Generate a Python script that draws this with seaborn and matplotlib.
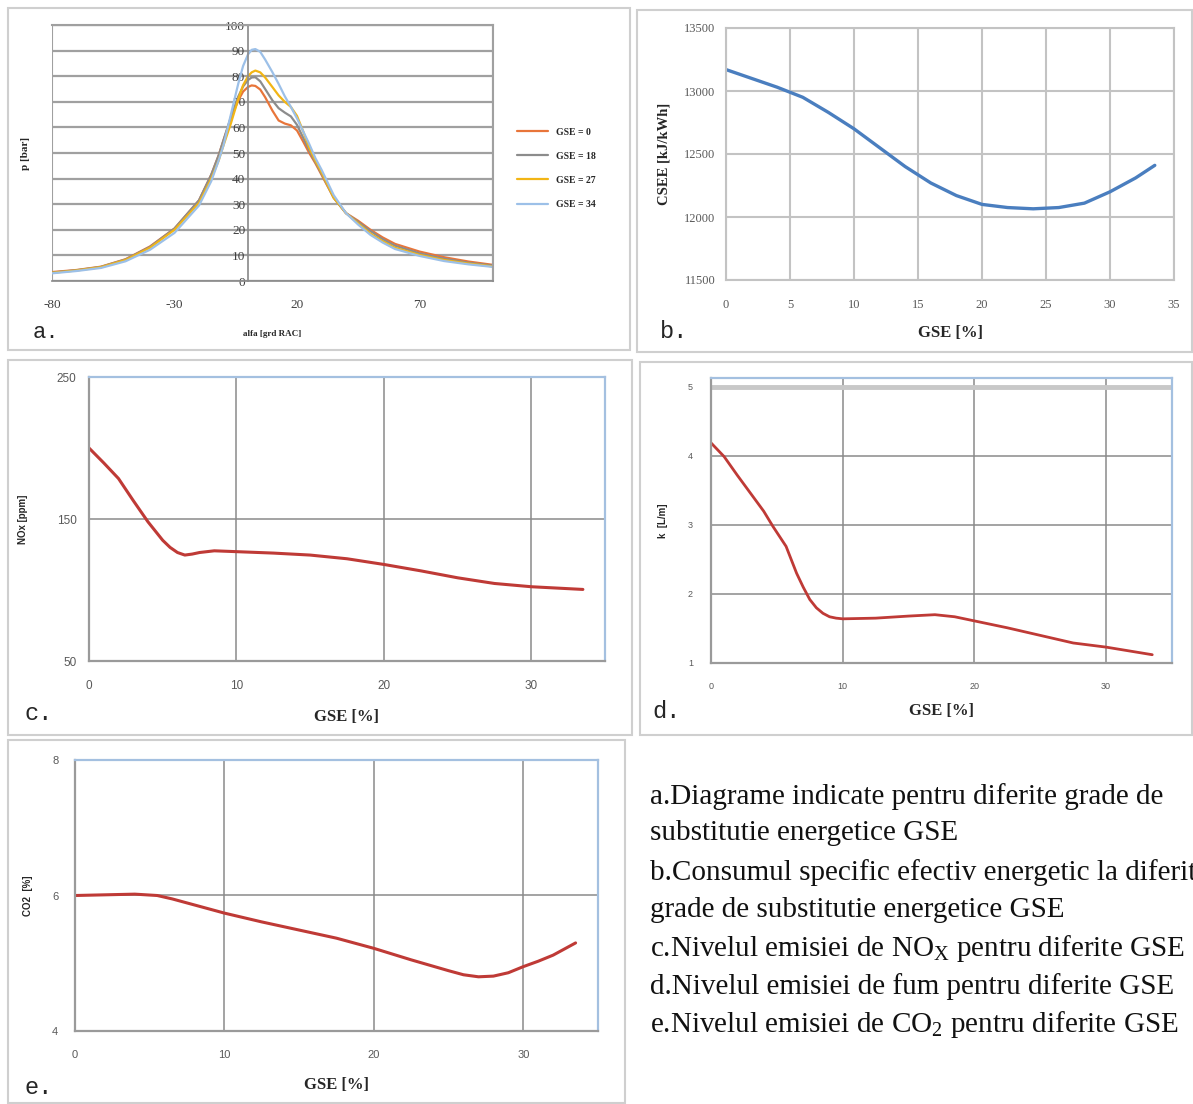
import numpy as np
import pandas as pd
import matplotlib
matplotlib.use("Agg")
import matplotlib.pyplot as plt
import seaborn as sns
from matplotlib.patches import Rectangle

# ---- data ----
# a. indicated pressure diagrams
alfa = [-80, -70, -60, -50, -40, -30, -20, -15, -12, -10, -7, -4, -2, 0, 1.5, 3, 5, 7, 10, 12.5, 15,
        17.5, 20, 22.5, 25, 27.5, 30, 35, 40, 45, 50, 55, 60, 70, 80, 90, 100]
p_gse0 = [3.5, 4.3, 5.6, 8.5, 13.5, 20.5, 31.5, 41.5, 49, 55, 63.5, 70.5, 74, 75.8, 76.4, 76.2, 74.8, 71.8, 66.5, 62.7, 61.5,
          60.8, 58.8, 54.5, 50, 46, 41.5, 32.5, 26.5, 23.5, 20, 17, 14.5, 11.5, 9.3, 7.6, 6.3]
p_gse18 = [3.3, 4.2, 5.5, 8.4, 13.3, 20.5, 31.5, 41.5, 49, 55, 64, 72, 76, 78.5, 79.5, 79.6, 78, 75, 70.5, 67.5, 65.8,
           64.3, 61, 56, 51, 46.5, 42, 32.5, 26.5, 23, 19.5, 16.3, 13.8, 10.8, 8.7, 7.1, 6.0]
p_gse27 = [3.2, 4.1, 5.4, 8.2, 13, 20, 30.5, 40, 47, 53, 61.5, 71, 76.5, 80, 81.5, 82.2, 81.5, 79.5, 75.7, 72.5, 70,
           68, 64.5, 58.5, 52, 47, 42.5, 32.5, 26.5, 22.5, 18.5, 15.5, 13, 10.2, 8.2, 6.8, 5.7]
p_gse34 = [3.0, 3.9, 5.1, 7.7, 12.2, 18.8, 29.5, 39, 47, 53, 65, 77, 84, 88.5, 90.3, 90.6, 89.5, 86.5, 81.5, 77, 72.2,
           68, 63.5, 58.5, 53.5, 48, 43.5, 33.5, 26.5, 22, 18, 15, 12.5, 9.8, 7.8, 6.5, 5.5]
series_names = ["GSE = 0", "GSE = 18", "GSE = 27", "GSE = 34"]

# b. specific energy consumption
gse_b = [0, 2, 4, 6, 8, 10, 12, 14, 16, 18, 20, 22, 24, 26, 28, 30, 32, 33.5]
csee = [13170, 13100, 13030, 12950, 12830, 12700, 12550, 12400, 12270, 12170, 12100, 12075, 12065, 12075, 12110, 12200, 12310, 12410]

# c. NOx
gse_c = [0, 1, 2, 3, 4, 5, 5.5, 6, 6.5, 7, 7.5, 8.5, 10, 12.5, 15, 17.5, 20, 22.5, 25, 27.5, 30, 33.5]
nox = [200, 189.5, 178.5, 163, 148, 135, 130, 126.4, 124.6, 125.3, 126.4, 127.6, 127, 126, 124.6, 122, 118, 113.5, 108.6, 104.6, 102.3, 100.4]

# d. smoke
gse_d = [0, 1, 2, 3, 4, 4.7, 5.7, 6.5, 7, 7.5, 8, 8.5, 9, 9.5, 10, 12.5, 15, 17, 18.5, 20, 22.5, 25, 27.5, 30, 33.5]
smoke = [4.19, 3.99, 3.72, 3.46, 3.2, 2.98, 2.69, 2.30, 2.10, 1.92, 1.80, 1.72, 1.67, 1.65, 1.64, 1.65, 1.68, 1.70, 1.67, 1.61, 1.51, 1.40, 1.29, 1.23, 1.12]

# e. CO2
gse_e = [0, 2, 4, 5.5, 6.5, 8, 10, 12.5, 15, 17.5, 20, 22.5, 25, 26, 27, 28, 29, 30, 31, 32, 33.5]
co2 = [6.0, 6.01, 6.02, 6.0, 5.95, 5.86, 5.74, 5.61, 5.49, 5.37, 5.22, 5.05, 4.89, 4.83, 4.80, 4.81, 4.86, 4.95, 5.03, 5.12, 5.30]

captions = [
    "a.Diagrame indicate pentru diferite grade de",
    "substitutie energetice GSE",
    "b.Consumul specific efectiv energetic la diferite",
    "grade de substitutie energetice GSE",
    "c.Nivelul emisiei de NO$_{\\mathregular{X}}$ pentru diferite GSE",
    "d.Nivelul emisiei de fum pentru diferite GSE",
    "e.Nivelul emisiei de CO$_{\\mathregular{2}}$ pentru diferite GSE",
]

sns.set_theme(style="white")
plt.rcParams["font.family"] = ["Liberation Serif", "DejaVu Serif"]
plt.rcParams["mathtext.fontset"] = "custom"
plt.rcParams["mathtext.rm"] = "Liberation Serif"
plt.rcParams["axes.unicode_minus"] = False

W, H = 1193, 1104
fig = plt.figure(figsize=(W / 100, H / 100), dpi=100)
fig.patch.set_facecolor("white")


def box(l, t, r, b):
    return [l / W, 1 - b / H, (r - l) / W, (b - t) / H]


# panel frames
for l, t, r, b in [(8, 8, 630, 350), (637, 10, 1192, 352), (8, 360, 632, 735),
                   (640, 362, 1192, 735), (8, 740, 625, 1103)]:
    fig.patches.append(Rectangle((l / W, 1 - b / H), (r - l) / W, (b - t) / H,
                                 transform=fig.transFigure, fill=False,
                                 edgecolor="#cfcfcf", lw=1.5))

sans = ["Liberation Sans", "DejaVu Sans"]
grey_tick = "#595959"

# ---------------- a ----------------
ax = fig.add_axes(box(52, 25, 493, 281))
df_a = pd.DataFrame({
    "alfa": alfa * 4,
    "p": p_gse0 + p_gse18 + p_gse27 + p_gse34,
    "serie": sum([[n] * len(alfa) for n in series_names], []),
})
pal = {"GSE = 0": "#e8753a", "GSE = 18": "#8c8c8c", "GSE = 27": "#f2b515", "GSE = 34": "#9cc0e8"}
sns.lineplot(data=df_a, x="alfa", y="p", hue="serie", palette=pal, lw=1.6, ax=ax, legend=True)
ax.set_xlim(-80, 100)
ax.set_ylim(0, 100)
ax.set_xticks([-80, -30, 20, 70])
ax.set_yticks(range(0, 101, 10))
ax.yaxis.grid(True, color="#a0a0a0", lw=1.6)
ax.set_axisbelow(True)
ax.spines["left"].set_position(("data", 0))
for s in ["left", "bottom"]:
    ax.spines[s].set_color("#8c8c8c")
for s in ["top", "right"]:
    ax.spines[s].set_color("#a0a0a0")
    ax.spines[s].set_linewidth(1.5)
ax.add_patch(Rectangle((0, 0), 1, 1, transform=ax.transAxes, fill=False,
                       edgecolor="#a0a0a0", lw=1.5, zorder=0))
ax.tick_params(axis="both", labelsize=9.5, length=0, pad=2, colors="#404040")
ax.tick_params(axis="x", length=4, direction="out", color="#8c8c8c", pad=9)
ax.set_xlabel("alfa [grd RAC]", fontsize=6.5, fontweight="bold", labelpad=14)
ax.set_ylabel("p [bar]", fontsize=8, fontweight="bold")
ax.yaxis.set_label_coords((30 - 52) / (493 - 52), 0.5)
leg = ax.legend(loc="upper left", bbox_to_anchor=(508 / W, 1 - 119 / H),
                bbox_transform=fig.transFigure, frameon=False,
                prop={"size": 7, "weight": "bold"}, handlelength=3.2,
                labelspacing=1.55, title=None)
fig.text(33 / W, 1 - 333 / H, "a.", fontsize=16, family=["Liberation Mono"], va="center")

# ---------------- b ----------------
ax = fig.add_axes(box(726, 28, 1174, 280))
sns.lineplot(x=gse_b, y=csee, color="#4a7ebf", lw=2.4, ax=ax)
ax.set_xlim(0, 35)
ax.set_ylim(11500, 13500)
ax.set_xticks(range(0, 36, 5))
ax.set_yticks(range(11500, 13501, 500))
ax.grid(True, color="#c3c3c3", lw=1.5)
for s in ax.spines.values():
    s.set_color("#c3c3c3")
    s.set_linewidth(1.5)
ax.tick_params(axis="both", labelsize=9, colors=grey_tick, length=4, direction="out")
ax.tick_params(axis="x", pad=10)
ax.tick_params(axis="both", color="#c3c3c3")
ax.set_xlabel("GSE [%]", fontsize=12, fontweight="bold", labelpad=10)
ax.set_ylabel("CSEE [kJ/kWh]", fontsize=10.5, fontweight="bold", labelpad=10)
fig.text(660 / W, 1 - 331 / H, "b.", fontsize=17, family=["Liberation Mono"], va="center")


def emission_axes(ax, yticks, grid_y):
    ax.set_xlim(0, 35)
    ax.set_xticks([0, 10, 20, 30])
    ax.set_yticks(yticks)
    for x in [10, 20, 30]:
        ax.axvline(x, color="#8a8a8a", lw=1.1, zorder=0)
    for y in grid_y:
        ax.axhline(y, color="#8a8a8a", lw=1.1, zorder=0)
    ax.spines["left"].set_color("#9a9a9a")
    ax.spines["bottom"].set_color("#9a9a9a")
    ax.spines["top"].set_color("#a4c0e0")
    ax.spines["right"].set_color("#a4c0e0")
    for s in ax.spines.values():
        s.set_linewidth(1.6)
    ax.tick_params(axis="both", length=0, colors=grey_tick)
    for lab in ax.get_xticklabels() + ax.get_yticklabels():
        lab.set_family(sans)


# ---------------- c ----------------
ax = fig.add_axes(box(89, 377, 605, 661))
sns.lineplot(x=gse_c, y=nox, color="#bf3a36", lw=2.2, ax=ax)
ax.set_ylim(50, 250)
emission_axes(ax, [50, 150, 250], [150])
ax.tick_params(axis="both", labelsize=8.5)
ax.tick_params(axis="x", pad=14)
ax.tick_params(axis="y", pad=9)
ax.set_xlabel("GSE [%]", fontsize=12, fontweight="bold", labelpad=12)
ax.set_ylabel("NOx [ppm]", fontsize=7, fontweight="bold", family=sans)
ax.yaxis.set_label_coords((28 - 89) / (605 - 89), 0.5)
fig.text(24 / W, 1 - 713 / H, "c.", fontsize=17, family=["Liberation Mono"], va="center")

# ---------------- d ----------------
ax = fig.add_axes(box(711, 378, 1172, 663))
sns.lineplot(x=gse_d, y=smoke, color="#bf3a36", lw=2.0, ax=ax)
ax.set_ylim(1, 5.13)
emission_axes(ax, [1, 2, 3, 4, 5], [2, 3, 4])
ax.axhline(5, color="#c8c8c8", lw=3.5, zorder=0)
ax.tick_params(axis="both", labelsize=6.5)
ax.tick_params(axis="x", pad=14)
ax.tick_params(axis="y", pad=13)
ax.set_xlabel("GSE [%]", fontsize=12, fontweight="bold", labelpad=8)
ax.set_ylabel("k  [L/m]", fontsize=7, fontweight="bold", family=sans)
ax.yaxis.set_label_coords((668 - 711) / (1172 - 711), 0.5)
fig.text(652 / W, 1 - 712 / H, "d.", fontsize=17, family=["Liberation Mono"], va="center")

# ---------------- e ----------------
ax = fig.add_axes(box(75, 760, 598, 1031))
sns.lineplot(x=gse_e, y=co2, color="#bf3a36", lw=2.2, ax=ax)
ax.set_ylim(4, 8)
emission_axes(ax, [4, 6, 8], [6])
ax.tick_params(axis="both", labelsize=8)
ax.tick_params(axis="x", pad=14)
ax.tick_params(axis="y", pad=12)
ax.set_xlabel("GSE [%]", fontsize=12, fontweight="bold", labelpad=12)
ax.set_ylabel("CO2  [%]", fontsize=7, fontweight="bold", family=sans)
ax.yaxis.set_label_coords((33 - 75) / (598 - 75), 0.5)
fig.text(24 / W, 1 - 1088 / H, "e.", fontsize=17, family=["Liberation Mono"], va="center")

# ---------------- captions ----------------
cap_y = [797, 833, 873, 910, 948, 987, 1024]
for txt, y in zip(captions, cap_y):
    fig.text(650 / W, 1 - y / H, txt, fontsize=21, va="center", color="#111111")

fig.savefig("out.png", dpi=100, facecolor="white")
